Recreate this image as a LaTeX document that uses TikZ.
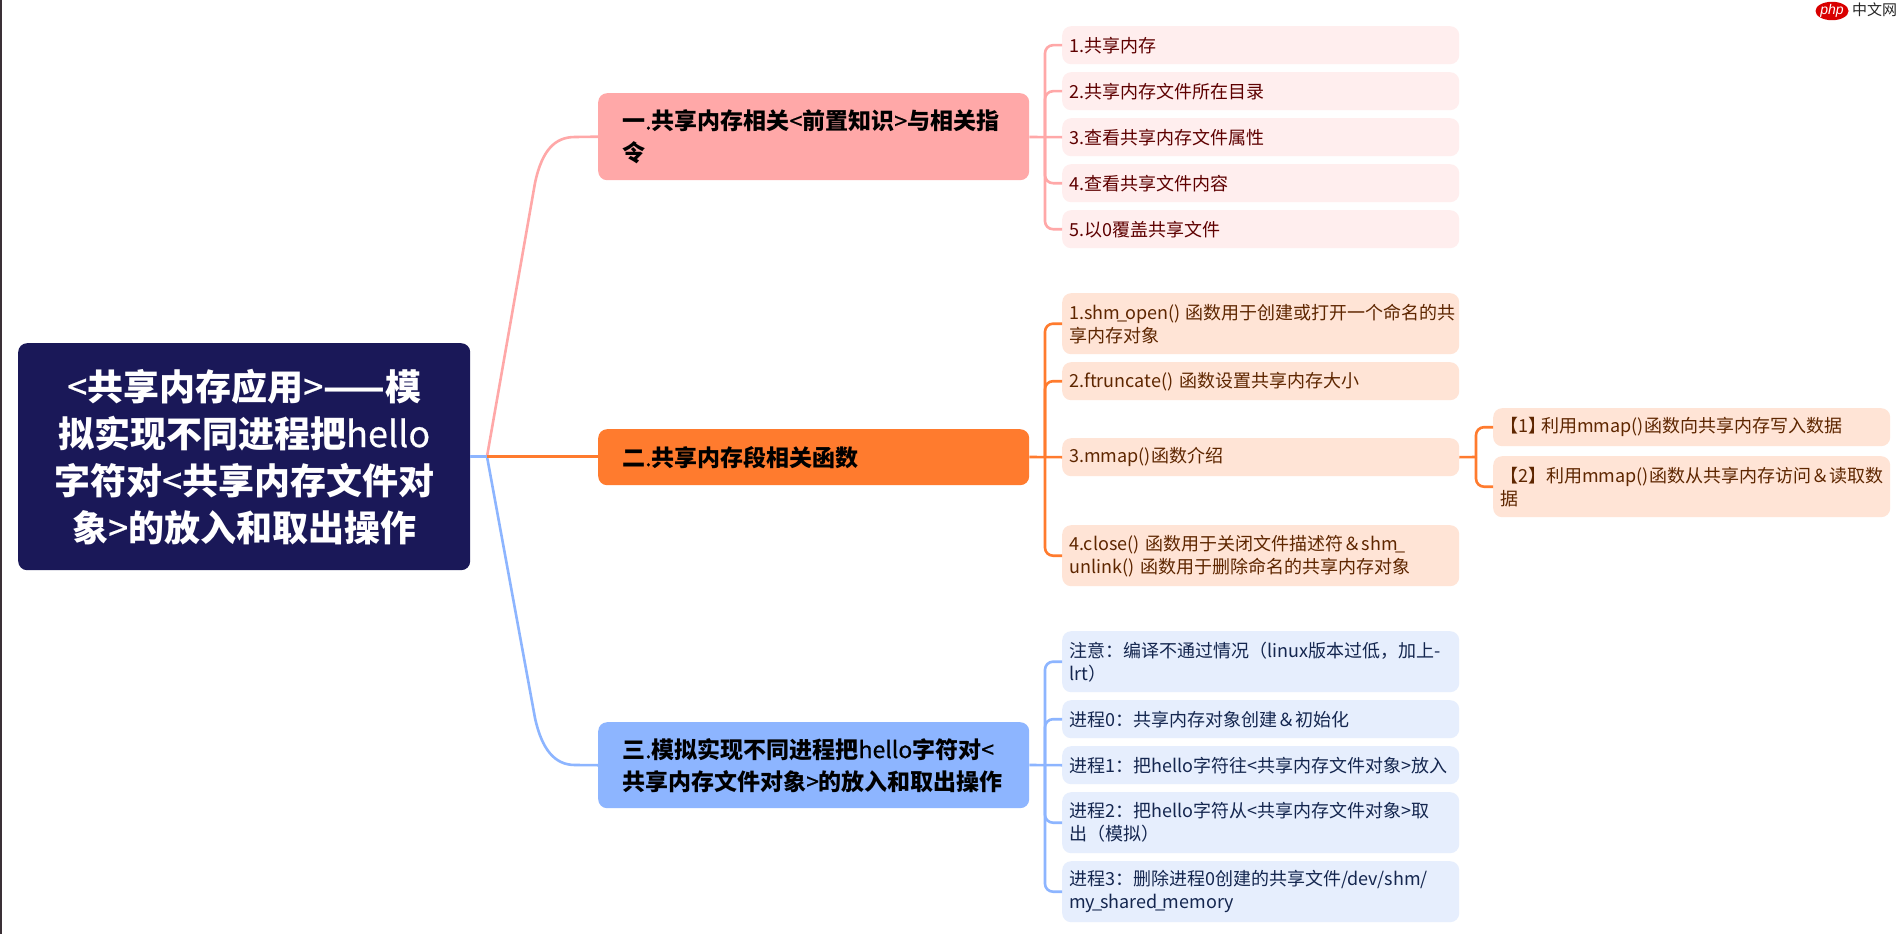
\documentclass[tikz,border=0pt]{standalone}
\usepackage{fontspec}
\usetikzlibrary{shapes.geometric}
\setmainfont{Noto Sans CJK SC}
\newfontfamily\logofont{Liberation Sans}
\newfontfamily\medfont[FakeBold=0.5]{Noto Sans CJK SC}
\newcommand{\Lat}[1]{{\medfont\mdseries #1}}
\newcommand{\Us}{\kern-2.5pt\_\kern-2.5pt}
\begin{document}
\begin{tikzpicture}[x=1pt,y=-1pt,
  boxbase/.style={rounded corners=9pt,inner sep=0pt,anchor=north west,align=left},
  rootbox/.style={boxbase,fill=rootc,minimum width=452pt,minimum height=227pt,text=white,font=\fontsize{36}{47}\selectfont\bfseries,align=center},
  bra/.style={boxbase,minimum width=431pt,text=black,font=\fontsize{23}{32}\selectfont\bfseries,text width=383pt,inner xsep=24pt},
  leaf/.style={boxbase,minimum width=397pt,text width=383pt,inner xsep=7pt,font=\fontsize{18}{23}\selectfont},
  pinkleaf/.style={leaf,fill=pinkl,text=pinkt},
  orleaf/.style={leaf,fill=orl,text=ort},
  bluleaf/.style={leaf,fill=blul,text=blut},
  conn/.style={line width=2.6pt,line join=round},
]
\definecolor{rootc}{HTML}{1A1858}
\definecolor{pinkb}{HTML}{FFA8A8}
\definecolor{orb}{HTML}{FF7B2E}
\definecolor{blub}{HTML}{8DB5FF}
\definecolor{pinkl}{HTML}{FFEEEE}
\definecolor{orl}{HTML}{FFE4D6}
\definecolor{blul}{HTML}{E6EEFD}
\definecolor{pinkt}{HTML}{5E0000}
\definecolor{ort}{HTML}{5E2600}
\definecolor{blut}{HTML}{14264F}
\definecolor{edgec}{HTML}{3A3036}
\useasboundingbox (0,0) rectangle (1899,934);
\fill[white] (0,0) rectangle (1899,934);
\fill[edgec] (0,0) rectangle (2,934);
% nodes
\node[rootbox] (root) at (18,343) {\Lat{<}共享内存应用\Lat{>}——模\\拟实现不同进程把\Lat{hello}\\字符对\Lat{<}共享内存文件对\\象\Lat{>}的放入和取出操作};
\node[bra,fill=pinkb,minimum height=87pt] (b1) at (598,93) {一\Lat{.}共享内存相关\Lat{<}前置知识\Lat{>}与相关指\\令};
\node[bra,fill=orb,minimum height=56pt] (b2) at (598,429) {二\Lat{.}共享内存段相关函数};
\node[bra,fill=blub,minimum height=86pt] (b3) at (598,722) {三\Lat{.}模拟实现不同进程把\Lat{hello}字符对\Lat{<}\\共享内存文件对象\Lat{>}的放入和取出操作};
\node[pinkleaf,minimum height=38pt] (a1) at (1062,26) {1.共享内存};
\node[pinkleaf,minimum height=38pt] (a2) at (1062,72) {2.共享内存文件所在目录};
\node[pinkleaf,minimum height=38pt] (a3) at (1062,118) {3.查看共享内存文件属性};
\node[pinkleaf,minimum height=38pt] (a4) at (1062,164) {4.查看共享文件内容};
\node[pinkleaf,minimum height=38pt] (a5) at (1062,210) {5.以0覆盖共享文件};
\node[orleaf,minimum height=61pt] (c1) at (1062,293) {\mbox{1.shm\Us open()\kern-1pt{} 函数用于创建或打开一个命名的共}\\享内存对象};
\node[orleaf,minimum height=38pt] (c2) at (1062,362) {2.ftruncate() 函数设置共享内存大小};
\node[orleaf,minimum height=38pt] (c3) at (1062,438) {3.mmap()函数介绍};
\node[orleaf,minimum height=61pt] (c4) at (1062,525) {\mbox{4.close() 函数用于关闭文件描述符＆shm\Us}\\unlink() 函数用于删除命名的共享内存对象};
\node[orleaf,minimum height=38pt] (d1) at (1493,408) {【1】\kern-5pt{}利用mmap()函数向共享内存写入数据};
\node[orleaf,minimum height=61pt] (d2) at (1493,456) {\mbox{【2】利用mmap()函数从共享内存访问＆读取数}\\据};
\node[bluleaf,minimum height=61pt] (e1) at (1062,631) {\mbox{注意：编译不通过情况（linux版本过低，加上-}\\lrt）};
\node[bluleaf,minimum height=38pt] (e2) at (1062,700) {进程0：共享内存对象创建＆初始化};
\node[bluleaf,minimum height=38pt] (e3) at (1062,746) {\mbox{进程1：把hello字符往<共享内存文件对象>放入}};
\node[bluleaf,minimum height=61pt] (e4) at (1062,792) {\mbox{进程2：把hello字符从<共享内存文件对象>取}\\出（模拟）};
\node[bluleaf,minimum height=61pt] (e5) at (1062,861) {\mbox{进程3：删除进程0创建的共享文件/dev/shm/}\\my\Us shared\Us memory};
% junction coordinates
\coordinate (j) at (487,456.5);
\coordinate (s1) at (1045,137);
\coordinate (s2) at (1045,457);
\coordinate (s3) at (1045,765);
\coordinate (s4) at (1476,457);
% root connectors
\draw[conn,pinkb] (j) -- (535,183) .. controls (542,150) and (555,137) .. (575,137) -- (b1.west);
\draw[conn,blub] (j) -- (535,718) .. controls (542,750) and (555,765) .. (575,765) -- (b3.west);
\draw[conn,blub] (root.east |- j) -- (j);
\draw[conn,orb] (j) -- (b2.west |- j);
% leaf connectors
\draw[conn,pinkb] (b1.east |- s1) -- (a3.west);
\draw[conn,pinkb,rounded corners=8pt] (s1) |- (a1.west);
\draw[conn,pinkb,rounded corners=8pt] (s1) |- (a2.west);
\draw[conn,pinkb,rounded corners=8pt] (s1) |- (a4.west);
\draw[conn,pinkb,rounded corners=8pt] (s1) |- (a5.west);
\draw[conn,orb] (b2.east |- s2) -- (c3.west);
\draw[conn,orb,rounded corners=8pt] (s2) |- (c1.west);
\draw[conn,orb,rounded corners=8pt] (s2) |- (c2.west);
\draw[conn,orb,rounded corners=8pt] (s2) |- (c4.west);
\draw[conn,orb] (c3.east) -- (s4);
\draw[conn,orb,rounded corners=8pt] (s4) |- (d1.west);
\draw[conn,orb,rounded corners=8pt] (s4) |- (d2.west);
\draw[conn,blub] (b3.east |- s3) -- (e3.west);
\draw[conn,blub,rounded corners=8pt] (s3) |- (e1.west);
\draw[conn,blub,rounded corners=8pt] (s3) |- (e2.west);
\draw[conn,blub,rounded corners=8pt] (s3) |- (e4.west);
\draw[conn,blub,rounded corners=8pt] (s3) |- (e5.west);
% watermark
\node[ellipse,fill=red!85!black,inner sep=0pt,minimum width=29pt,minimum height=16pt,text=white,font=\logofont\fontsize{14}{14}\selectfont\itshape] (logo) at (1832,11) {php};
\node[anchor=west,inner sep=0pt,font=\fontsize{15}{16}\selectfont,text=black!85] (logotext) at (1852,10) {中文网};
\end{tikzpicture}
\end{document}
